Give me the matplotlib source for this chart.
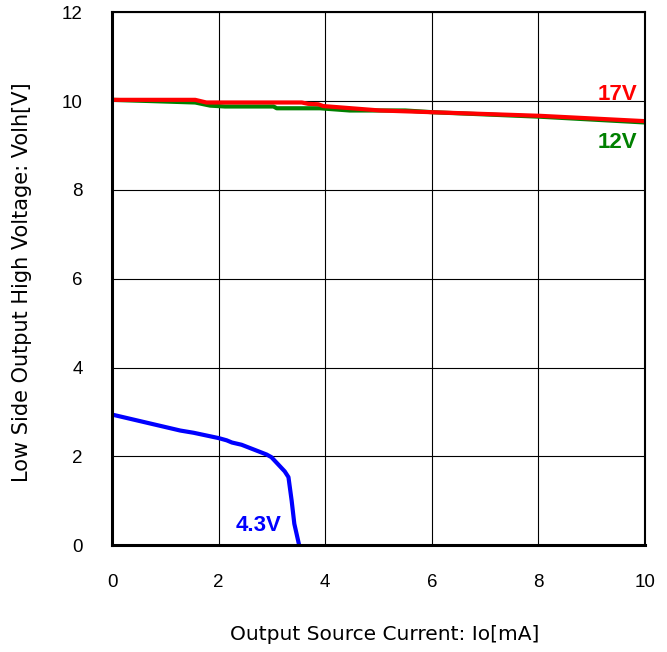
import matplotlib
matplotlib.use("Agg")
from matplotlib import pyplot as plt

# output source current [mA] / high-side voltage [V] for each supply
io_17v = [0.0, 1.56, 1.77, 3.56, 3.68, 3.87, 3.96, 5.03, 6.03, 8.03, 10.0]
volh_17v = [10.03, 10.03, 9.97, 9.97, 9.94, 9.93, 9.89, 9.79, 9.75, 9.67, 9.55]

io_12v = [0.0, 1.56, 1.84, 2.12, 3.03, 3.09, 3.90, 4.46, 5.5, 6.03, 8.03, 10.0]
volh_12v = [10.03, 9.97, 9.90, 9.88, 9.88, 9.84, 9.84, 9.79, 9.79, 9.75, 9.65, 9.52]

io_43v = [0.0, 1.28, 1.53, 2.0, 2.15, 2.25, 2.43, 2.90, 2.99, 3.24, 3.31, 3.37, 3.42, 3.51]
volh_43v = [2.94, 2.58, 2.53, 2.41, 2.36, 2.31, 2.26, 2.04, 1.98, 1.66, 1.53, 1.0, 0.48, 0.0]

xticks = [0, 2, 4, 6, 8, 10]
yticks = [0, 2, 4, 6, 8, 10, 12]

fig = plt.figure(figsize=(6.67, 6.52), dpi=100)
ax = fig.add_axes([0.168, 0.164, 0.799, 0.817])

ax.plot(io_12v, volh_12v, color="#008000", lw=3, solid_capstyle="butt")
ax.plot(io_17v, volh_17v, color="#ff0000", lw=3, solid_capstyle="butt")
ax.plot(io_43v, volh_43v, color="#0000ff", lw=3, solid_capstyle="butt")

ax.set_xlim(0, 10)
ax.set_ylim(0, 12)
ax.set_xticks(xticks)
ax.set_yticks(yticks)
ax.grid(True, color="black", lw=0.8)
ax.set_axisbelow(True)
ax.tick_params(length=0, labelsize=13.5, pad=21)
for lab in ax.get_xticklabels() + ax.get_yticklabels():
    lab.set_fontfamily("Liberation Sans")
for side in ["left", "bottom"]:
    ax.spines[side].set_linewidth(2.2)
for side in ["top", "right"]:
    ax.spines[side].set_linewidth(1.5)

lbl = dict(fontsize=16, fontweight="bold", family="Liberation Sans")
ax.text(9.49, 10.14, "17V", color="#ff0000", ha="center", va="center", **lbl)
ax.text(9.49, 9.06, "12V", color="#008000", ha="center", va="center", **lbl)
ax.text(2.74, 0.43, "4.3V", color="#0000ff", ha="center", va="center", **lbl)

ax.set_xlabel("Output Source Current: Io[mA]", fontsize=14.5,
              family="DejaVu Sans")
ax.set_ylabel("Low Side Output High Voltage: Volh[V]", fontsize=15,
              family="DejaVu Sans")
ax.xaxis.set_label_coords(0.512, -0.15)
ax.yaxis.set_label_coords(-0.15, 0.493)

fig.savefig("out.png", dpi=100)
